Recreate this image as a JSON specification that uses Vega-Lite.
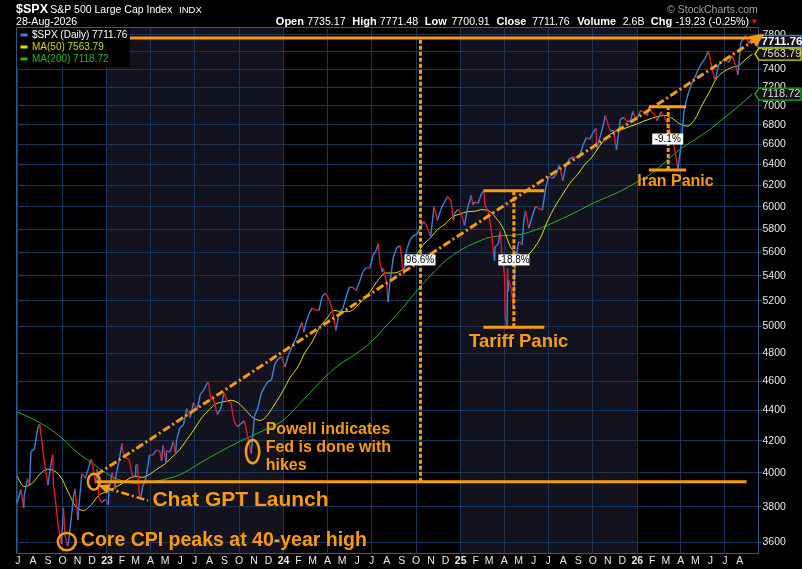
{
  "$schema": "https://vega.github.io/schema/vega-lite/v6.json",
  "autosize": "none",
  "width": 742,
  "height": 526,
  "padding": {"left": 16, "top": 27, "right": 44, "bottom": 16},
  "background": "#000000",
  "config": {
    "font": "Liberation Sans",
    "view": {"stroke": "#2d5b8e", "strokeWidth": 1}
  },
  "datasets": {
    "yrs": [
      {"s": "2023-01-01", "e": "2024-01-01"},
      {"s": "2025-01-01", "e": "2026-01-01"}
    ],
    "px": [
      {"d":"2022-06-28","c":3821},{"d":"2022-07-01","c":3825},{"d":"2022-07-08","c":3899},{"d":"2022-07-14","c":3790},
      {"d":"2022-07-15","c":3863},{"d":"2022-07-22","c":3962},{"d":"2022-07-26","c":3921},{"d":"2022-07-29","c":4130},
      {"d":"2022-08-05","c":4145},{"d":"2022-08-12","c":4280},{"d":"2022-08-16","c":4305},{"d":"2022-08-19","c":4228},
      {"d":"2022-08-26","c":4058},{"d":"2022-09-02","c":3924},{"d":"2022-09-09","c":4067},{"d":"2022-09-12","c":4110},
      {"d":"2022-09-13","c":3932},{"d":"2022-09-16","c":3873},{"d":"2022-09-23","c":3693},{"d":"2022-09-30","c":3586},
      {"d":"2022-10-04","c":3791},{"d":"2022-10-07","c":3640},{"d":"2022-10-12","c":3577},{"d":"2022-10-14","c":3583},
      {"d":"2022-10-21","c":3752},{"d":"2022-10-25","c":3859},{"d":"2022-10-28","c":3901},{"d":"2022-11-03","c":3720},
      {"d":"2022-11-04","c":3771},{"d":"2022-11-10","c":3956},{"d":"2022-11-11","c":3993},{"d":"2022-11-18","c":3965},
      {"d":"2022-11-25","c":4026},{"d":"2022-11-30","c":4080},{"d":"2022-12-02","c":4072},{"d":"2022-12-09","c":3934},
      {"d":"2022-12-13","c":4020},{"d":"2022-12-16","c":3852},{"d":"2022-12-22","c":3822},{"d":"2022-12-30","c":3840},
      {"d":"2023-01-05","c":3808},{"d":"2023-01-06","c":3895},{"d":"2023-01-13","c":3999},{"d":"2023-01-19","c":3899},
      {"d":"2023-01-20","c":3973},{"d":"2023-01-27","c":4071},{"d":"2023-02-02","c":4180},{"d":"2023-02-03","c":4136},
      {"d":"2023-02-10","c":4090},{"d":"2023-02-17","c":4079},{"d":"2023-02-24","c":3970},{"d":"2023-03-02","c":3982},
      {"d":"2023-03-03","c":4045},{"d":"2023-03-06","c":4048},{"d":"2023-03-10","c":3862},{"d":"2023-03-13","c":3855},
      {"d":"2023-03-17","c":3917},{"d":"2023-03-24","c":3971},{"d":"2023-03-31","c":4109},{"d":"2023-04-06","c":4105},
      {"d":"2023-04-14","c":4138},{"d":"2023-04-21","c":4133},{"d":"2023-04-25","c":4071},{"d":"2023-04-28","c":4169},
      {"d":"2023-05-04","c":4061},{"d":"2023-05-05","c":4136},{"d":"2023-05-12","c":4124},{"d":"2023-05-19","c":4192},
      {"d":"2023-05-24","c":4115},{"d":"2023-05-26","c":4205},{"d":"2023-06-02","c":4282},{"d":"2023-06-09","c":4299},
      {"d":"2023-06-16","c":4410},{"d":"2023-06-23","c":4348},{"d":"2023-06-30","c":4450},{"d":"2023-07-07","c":4399},
      {"d":"2023-07-14","c":4505},{"d":"2023-07-21","c":4536},{"d":"2023-07-28","c":4582},{"d":"2023-07-31","c":4589},
      {"d":"2023-08-04","c":4478},{"d":"2023-08-11","c":4464},{"d":"2023-08-18","c":4370},{"d":"2023-08-25","c":4406},
      {"d":"2023-09-01","c":4516},{"d":"2023-09-08","c":4457},{"d":"2023-09-15","c":4450},{"d":"2023-09-22","c":4320},
      {"d":"2023-09-29","c":4288},{"d":"2023-10-06","c":4309},{"d":"2023-10-13","c":4327},{"d":"2023-10-20","c":4224},
      {"d":"2023-10-27","c":4117},{"d":"2023-11-03","c":4358},{"d":"2023-11-10","c":4415},{"d":"2023-11-17","c":4514},
      {"d":"2023-11-24","c":4559},{"d":"2023-12-01","c":4595},{"d":"2023-12-08","c":4604},{"d":"2023-12-15","c":4719},
      {"d":"2023-12-22","c":4755},{"d":"2023-12-29","c":4770},{"d":"2024-01-05","c":4697},{"d":"2024-01-12","c":4784},
      {"d":"2024-01-19","c":4840},{"d":"2024-01-26","c":4891},{"d":"2024-02-02","c":4959},{"d":"2024-02-09","c":5027},
      {"d":"2024-02-13","c":4953},{"d":"2024-02-16","c":5006},{"d":"2024-02-23","c":5089},{"d":"2024-03-01","c":5137},
      {"d":"2024-03-08","c":5124},{"d":"2024-03-15","c":5117},{"d":"2024-03-22","c":5234},{"d":"2024-03-28","c":5254},
      {"d":"2024-04-05","c":5204},{"d":"2024-04-12","c":5123},{"d":"2024-04-19","c":4967},{"d":"2024-04-26","c":5100},
      {"d":"2024-05-03","c":5128},{"d":"2024-05-10","c":5223},{"d":"2024-05-17","c":5303},{"d":"2024-05-24","c":5305},
      {"d":"2024-05-31","c":5278},{"d":"2024-06-07","c":5347},{"d":"2024-06-14","c":5431},{"d":"2024-06-21","c":5465},
      {"d":"2024-06-28","c":5460},{"d":"2024-07-05","c":5567},{"d":"2024-07-12","c":5615},{"d":"2024-07-16","c":5667},
      {"d":"2024-07-19","c":5505},{"d":"2024-07-24","c":5427},{"d":"2024-07-26","c":5459},{"d":"2024-08-02","c":5347},
      {"d":"2024-08-05","c":5186},{"d":"2024-08-09","c":5344},{"d":"2024-08-16","c":5554},{"d":"2024-08-23","c":5634},
      {"d":"2024-08-30","c":5648},{"d":"2024-09-06","c":5408},{"d":"2024-09-13","c":5626},{"d":"2024-09-20","c":5703},
      {"d":"2024-09-27","c":5738},{"d":"2024-10-04","c":5751},{"d":"2024-10-11","c":5815},{"d":"2024-10-18","c":5864},
      {"d":"2024-10-25","c":5808},{"d":"2024-11-01","c":5729},{"d":"2024-11-08","c":5996},{"d":"2024-11-15","c":5871},
      {"d":"2024-11-22","c":5969},{"d":"2024-11-29","c":6032},{"d":"2024-12-06","c":6090},{"d":"2024-12-13","c":6051},
      {"d":"2024-12-18","c":5872},{"d":"2024-12-20","c":5931},{"d":"2024-12-27","c":5971},{"d":"2025-01-03","c":5942},
      {"d":"2025-01-10","c":5827},{"d":"2025-01-17","c":5997},{"d":"2025-01-24","c":6101},{"d":"2025-01-27","c":6012},
      {"d":"2025-01-31","c":6041},{"d":"2025-02-07","c":6026},{"d":"2025-02-14","c":6115},{"d":"2025-02-19","c":6144},
      {"d":"2025-02-21","c":6013},{"d":"2025-02-28","c":5955},{"d":"2025-03-07","c":5770},{"d":"2025-03-10","c":5615},
      {"d":"2025-03-13","c":5522},{"d":"2025-03-14","c":5639},{"d":"2025-03-21","c":5667},{"d":"2025-03-25","c":5777},
      {"d":"2025-03-28","c":5581},{"d":"2025-04-03","c":5397},{"d":"2025-04-04","c":5074},{"d":"2025-04-08","c":4982},
      {"d":"2025-04-09","c":5457},{"d":"2025-04-10","c":5268},{"d":"2025-04-11","c":5363},{"d":"2025-04-17","c":5283},
      {"d":"2025-04-21","c":5158},{"d":"2025-04-25","c":5525},{"d":"2025-05-02","c":5686},{"d":"2025-05-09","c":5660},
      {"d":"2025-05-12","c":5844},{"d":"2025-05-16","c":5958},{"d":"2025-05-23","c":5803},{"d":"2025-05-30","c":5912},
      {"d":"2025-06-06","c":6000},{"d":"2025-06-13","c":5977},{"d":"2025-06-20","c":5968},{"d":"2025-06-27","c":6173},
      {"d":"2025-07-03","c":6279},{"d":"2025-07-11","c":6260},{"d":"2025-07-18","c":6297},{"d":"2025-07-25","c":6389},
      {"d":"2025-08-01","c":6238},{"d":"2025-08-08","c":6389},{"d":"2025-08-15","c":6450},{"d":"2025-08-22","c":6467},
      {"d":"2025-08-29","c":6460},{"d":"2025-09-05","c":6482},{"d":"2025-09-12","c":6584},{"d":"2025-09-19","c":6664},
      {"d":"2025-09-26","c":6644},{"d":"2025-10-03","c":6716},{"d":"2025-10-09","c":6753},{"d":"2025-10-10","c":6553},
      {"d":"2025-10-17","c":6664},{"d":"2025-10-24","c":6792},{"d":"2025-10-28","c":6890},{"d":"2025-10-31","c":6840},
      {"d":"2025-11-07","c":6728},{"d":"2025-11-14","c":6734},{"d":"2025-11-20","c":6538},{"d":"2025-11-28","c":6849},
      {"d":"2025-12-05","c":6870},{"d":"2025-12-12","c":6827},{"d":"2025-12-19","c":6834},{"d":"2025-12-24","c":6932},
      {"d":"2025-12-31","c":6845},{"d":"2026-01-02","c":6858},{"d":"2026-01-09","c":6944},{"d":"2026-01-16","c":6921},
      {"d":"2026-01-23","c":6890},{"d":"2026-01-27","c":6980},{"d":"2026-01-30","c":6935},{"d":"2026-02-06","c":6905},
      {"d":"2026-02-12","c":6835},{"d":"2026-02-20","c":6930},{"d":"2026-02-27","c":6878},{"d":"2026-03-06","c":6795},
      {"d":"2026-03-13","c":6690},{"d":"2026-03-20","c":6560},{"d":"2026-03-27","c":6352},{"d":"2026-04-02","c":6560},
      {"d":"2026-04-09","c":6950},{"d":"2026-04-17","c":7120},{"d":"2026-04-24","c":7230},{"d":"2026-05-01","c":7300},
      {"d":"2026-05-08","c":7390},{"d":"2026-05-15","c":7460},{"d":"2026-05-22","c":7510},{"d":"2026-05-29","c":7600},
      {"d":"2026-06-05","c":7420},{"d":"2026-06-12","c":7260},{"d":"2026-06-19","c":7440},{"d":"2026-06-26","c":7480},
      {"d":"2026-07-02","c":7510},{"d":"2026-07-10","c":7470},{"d":"2026-07-17","c":7545},{"d":"2026-07-24","c":7440},
      {"d":"2026-07-29","c":7330},{"d":"2026-08-04","c":7700},{"d":"2026-08-11","c":7755},{"d":"2026-08-14","c":7780},
      {"d":"2026-08-21","c":7690},{"d":"2026-08-25","c":7735},{"d":"2026-08-28","c":7711.76}
    ],
    "ma50": [
      {"d":"2022-07-01","v":3975},{"d":"2022-07-15","v":3915},{"d":"2022-08-01","v":3935},{"d":"2022-08-15","v":3985},
      {"d":"2022-09-01","v":4020},{"d":"2022-09-15","v":4010},{"d":"2022-10-01","v":3960},{"d":"2022-10-15","v":3875},
      {"d":"2022-11-01","v":3790},{"d":"2022-11-15","v":3775},{"d":"2022-12-01","v":3810},{"d":"2022-12-15","v":3860},
      {"d":"2023-01-01","v":3885},{"d":"2023-01-15","v":3905},{"d":"2023-02-01","v":3930},{"d":"2023-02-15","v":3960},
      {"d":"2023-03-01","v":3975},{"d":"2023-03-15","v":3970},{"d":"2023-04-01","v":3990},{"d":"2023-04-15","v":4020},
      {"d":"2023-05-01","v":4050},{"d":"2023-05-15","v":4090},{"d":"2023-06-01","v":4140},{"d":"2023-06-15","v":4200},
      {"d":"2023-07-01","v":4270},{"d":"2023-07-15","v":4340},{"d":"2023-08-01","v":4400},{"d":"2023-08-15","v":4440},
      {"d":"2023-09-01","v":4455},{"d":"2023-09-15","v":4465},{"d":"2023-10-01","v":4445},{"d":"2023-10-15","v":4400},
      {"d":"2023-11-01","v":4345},{"d":"2023-11-15","v":4330},{"d":"2023-12-01","v":4370},{"d":"2023-12-15","v":4440},
      {"d":"2024-01-01","v":4530},{"d":"2024-01-15","v":4620},{"d":"2024-02-01","v":4700},{"d":"2024-02-15","v":4800},
      {"d":"2024-03-01","v":4880},{"d":"2024-03-15","v":4980},{"d":"2024-04-01","v":5060},{"d":"2024-04-15","v":5120},
      {"d":"2024-05-01","v":5110},{"d":"2024-05-15","v":5110},{"d":"2024-06-01","v":5150},{"d":"2024-06-15","v":5210},
      {"d":"2024-07-01","v":5280},{"d":"2024-07-15","v":5360},{"d":"2024-08-01","v":5420},{"d":"2024-08-15","v":5420},
      {"d":"2024-09-01","v":5440},{"d":"2024-09-15","v":5490},{"d":"2024-10-01","v":5560},{"d":"2024-10-15","v":5650},
      {"d":"2024-11-01","v":5720},{"d":"2024-11-15","v":5790},{"d":"2024-12-01","v":5840},{"d":"2024-12-15","v":5900},
      {"d":"2025-01-01","v":5930},{"d":"2025-01-15","v":5950},{"d":"2025-02-01","v":5955},{"d":"2025-02-15","v":5970},
      {"d":"2025-03-01","v":5960},{"d":"2025-03-15","v":5900},{"d":"2025-04-01","v":5790},{"d":"2025-04-15","v":5640},
      {"d":"2025-05-01","v":5580},{"d":"2025-05-15","v":5560},{"d":"2025-06-01","v":5620},{"d":"2025-06-15","v":5710},
      {"d":"2025-07-01","v":5870},{"d":"2025-07-15","v":5990},{"d":"2025-08-01","v":6110},{"d":"2025-08-15","v":6210},
      {"d":"2025-09-01","v":6300},{"d":"2025-09-15","v":6390},{"d":"2025-10-01","v":6470},{"d":"2025-10-15","v":6570},
      {"d":"2025-11-01","v":6670},{"d":"2025-11-15","v":6720},{"d":"2025-12-01","v":6745},{"d":"2025-12-15","v":6770},
      {"d":"2026-01-01","v":6800},{"d":"2026-01-15","v":6830},{"d":"2026-02-01","v":6860},{"d":"2026-02-15","v":6880},
      {"d":"2026-03-01","v":6890},{"d":"2026-03-15","v":6860},{"d":"2026-04-01","v":6800},{"d":"2026-04-15","v":6780},
      {"d":"2026-05-01","v":6850},{"d":"2026-05-15","v":6990},{"d":"2026-06-01","v":7150},{"d":"2026-06-15","v":7290},
      {"d":"2026-07-01","v":7370},{"d":"2026-07-15","v":7410},{"d":"2026-08-01","v":7440},{"d":"2026-08-15","v":7510},
      {"d":"2026-08-28","v":7563.79}
    ],
    "ma200": [
      {"d":"2022-07-01","v":4385},{"d":"2022-08-01","v":4340},{"d":"2022-09-01","v":4285},{"d":"2022-10-01","v":4215},
      {"d":"2022-11-01","v":4125},{"d":"2022-12-01","v":4060},{"d":"2023-01-01","v":3995},{"d":"2023-02-01","v":3950},
      {"d":"2023-03-01","v":3935},{"d":"2023-04-01","v":3940},{"d":"2023-05-01","v":3958},{"d":"2023-06-01","v":3985},
      {"d":"2023-07-01","v":4035},{"d":"2023-08-01","v":4090},{"d":"2023-09-01","v":4142},{"d":"2023-10-01","v":4190},
      {"d":"2023-11-01","v":4234},{"d":"2023-12-01","v":4278},{"d":"2024-01-01","v":4330},{"d":"2024-02-01","v":4430},
      {"d":"2024-03-01","v":4530},{"d":"2024-04-01","v":4640},{"d":"2024-05-01","v":4725},{"d":"2024-06-01","v":4795},
      {"d":"2024-07-01","v":4880},{"d":"2024-08-01","v":5000},{"d":"2024-09-01","v":5125},{"d":"2024-10-01","v":5265},
      {"d":"2024-11-01","v":5400},{"d":"2024-12-01","v":5520},{"d":"2025-01-01","v":5610},{"d":"2025-02-01","v":5675},
      {"d":"2025-03-01","v":5720},{"d":"2025-04-01","v":5738},{"d":"2025-05-01","v":5745},{"d":"2025-06-01","v":5780},
      {"d":"2025-07-01","v":5830},{"d":"2025-08-01","v":5890},{"d":"2025-09-01","v":5955},{"d":"2025-10-01","v":6025},
      {"d":"2025-11-01","v":6085},{"d":"2025-12-01","v":6145},{"d":"2026-01-01","v":6225},{"d":"2026-02-01","v":6310},
      {"d":"2026-03-01","v":6420},{"d":"2026-04-01","v":6545},{"d":"2026-05-01","v":6640},{"d":"2026-06-01","v":6745},
      {"d":"2026-07-01","v":6865},{"d":"2026-08-01","v":6995},{"d":"2026-08-28","v":7118.72}
    ],
    "hl": [
      {"a":"2022-12-01","b":"2026-09-08","v":7752},
      {"a":"2022-12-11","b":"2026-08-16","v":3944},
      {"a":"2025-02-18","b":"2025-06-24","v":6144},
      {"a":"2025-02-18","b":"2025-06-24","v":4990},
      {"a":"2026-01-26","b":"2026-04-13","v":6983},
      {"a":"2026-01-26","b":"2026-04-13","v":6341}
    ],
    "vl": [
      {"d":"2024-10-11","lo":3944,"hi":7752},
      {"d":"2025-04-22","lo":4990,"hi":6144},
      {"d":"2026-03-07","lo":6341,"hi":6983}
    ],
    "pct": [
      {"d":"2024-10-10","v":5529,"t":"96.6%"},
      {"d":"2025-04-22","v":5529,"t":"-18.8%"},
      {"d":"2026-03-06","v":6647,"t":"-9.1%"}
    ],
    "trend": [
      {"d":"2022-12-11","v":3985},
      {"d":"2026-09-08","v":7752}
    ],
    "gpt": [
      {"d":"2023-03-28","v":3832},
      {"d":"2022-12-31","v":3907}
    ],
    "rings": [
      {"k":"cpi","d":"2022-10-11","v":3600},
      {"k":"gpt","d":"2022-12-06","v":3944},
      {"k":"pow","d":"2023-10-30","v":4129}
    ],
    "tags": [
      {"k":"spx","v":7711.76,"t":"7711.76"},
      {"k":"m50","v":7563.79,"t":"7563.79"},
      {"k":"m200","v":7118.72,"t":"7118.72"}
    ],
    "hdr": [
      {"t":"Open","d":"2023-12-17","b":1},{"t":"7735.17","d":"2024-02-20","b":0},
      {"t":"High","d":"2024-05-23","b":1},{"t":"7771.48","d":"2024-07-19","b":0},
      {"t":"Low","d":"2024-10-20","b":1},{"t":"7700.91","d":"2024-12-14","b":0},
      {"t":"Close","d":"2025-03-17","b":1},{"t":"7711.76","d":"2025-05-30","b":0},
      {"t":"Volume","d":"2025-08-31","b":1},{"t":"2.6B","d":"2025-12-03","b":0},
      {"t":"Chg","d":"2026-01-30","b":1},{"t":"-19.23 (-0.25%)","d":"2026-03-22","b":0},
      {"t":"28-Aug-2026","d":"2022-06-28","b":0}
    ]
  },
  "layer": [
    {
      "data": {"name": "yrs"},
      "mark": {"type": "rect", "color": "#13131f", "blend": "lighten"},
      "encoding": {
        "x": {
          "field": "s", "type": "temporal",
          "scale": {"domain": [{"year": 2022, "month": 6, "date": 28}, {"year": 2026, "month": 9, "date": 8, "hours": 14}]},
          "axis": {
            "title": null, "domain": false, "ticks": false, "grid": true,
            "gridColor": "#1a3556",
            "gridOpacity": {"condition": {"test": "month(datum.value) % 3 == 0", "value": 1}, "value": 0},
            "tickCount": {"interval": "month", "step": 1},
            "labelExpr": "datum.value > datetime(2026, 7, 20) ? '' : month(datum.value) == 0 ? timeFormat(datum.value, '%y') : slice(timeFormat(datum.value, '%b'), 0, 1)",
            "labelOverlap": false, "labelFlush": false,
            "labelColor": "#e8e8e8", "labelFontSize": 10.5, "labelPadding": 2,
            "labelFontWeight": {"condition": {"test": "month(datum.value) == 0", "value": "bold"}, "value": "normal"}
          }
        },
        "x2": {"field": "e"}
      }
    },
    {
      "data": {"name": "ma200"},
      "mark": {"type": "line", "strokeWidth": 1, "interpolate": "monotone"},
      "encoding": {
        "x": {"field": "d", "type": "temporal"},
        "y": {
          "field": "v", "type": "quantitative",
          "scale": {"type": "log", "domain": [3538, 7884], "nice": false, "zero": false},
          "axis": {
            "orient": "right", "title": null, "format": "d",
            "values": [3600, 3800, 4000, 4200, 4400, 4600, 4800, 5000, 5200, 5400, 5600, 5800, 6000, 6200, 6400, 6600, 6800, 7000, 7200, 7400, 7600, 7800],
            "labelExpr": "datum.value == 7600 ? '' : datum.label",
            "domain": false, "ticks": true, "tickSize": 3, "tickColor": "#2d5b8e",
            "grid": true, "gridColor": "#1a3556",
            "labelColor": "#e8e8e8", "labelFontSize": 10.5, "labelPadding": 1
          }
        },
        "color": {
          "datum": "MA(200) 7118.72", "type": "nominal",
          "scale": {"domain": ["$SPX (Daily) 7711.76", "MA(50) 7563.79", "MA(200) 7118.72"], "range": ["#3b82dc", "#e0e000", "#22b522"]},
          "legend": {
            "title": null, "orient": "top-left", "offset": 1, "padding": 2,
            "fillColor": "#000000", "symbolType": "stroke", "symbolSize": 49, "symbolStrokeWidth": 3,
            "labelFontSize": 10, "labelOffset": 3, "rowPadding": 0, "labelLimit": 200,
            "encode": {"labels": {"update": {"fill": {"signal": "datum.label == 'MA(50) 7563.79' ? '#d8d800' : datum.label == 'MA(200) 7118.72' ? '#25b525' : '#ffffff'"}}}}
          }
        }
      }
    },
    {
      "data": {"name": "ma50"},
      "mark": {"type": "line", "strokeWidth": 1, "interpolate": "monotone"},
      "encoding": {
        "x": {"field": "d", "type": "temporal"},
        "y": {"field": "v", "type": "quantitative"},
        "color": {"datum": "MA(50) 7563.79", "type": "nominal"}
      }
    },
    {
      "data": {"name": "px"},
      "transform": [
        {"window": [{"op": "lag", "field": "c", "as": "p"}, {"op": "lag", "field": "d", "as": "pd"}], "sort": [{"field": "d"}]},
        {"filter": "datum.p != null"}
      ],
      "mark": {"type": "rule", "strokeWidth": 1.4},
      "encoding": {
        "x": {"field": "pd", "type": "temporal"},
        "x2": {"field": "d"},
        "y": {"field": "p", "type": "quantitative"},
        "y2": {"field": "c"},
        "color": {"condition": {"test": "datum.c >= datum.p", "value": "#3b82dc"}, "value": "#ea1520"}
      }
    },
    {
      "data": {"name": "hl"},
      "mark": {"type": "rule", "strokeWidth": 3, "color": "#fb9b0c"},
      "encoding": {
        "x": {"field": "a", "type": "temporal"},
        "x2": {"field": "b"},
        "y": {"field": "v", "type": "quantitative"}
      }
    },
    {
      "data": {"name": "vl"},
      "mark": {"type": "rule", "strokeWidth": 3, "color": "#fb9b0c", "strokeDash": [4, 2]},
      "encoding": {
        "x": {"field": "d", "type": "temporal"},
        "y": {"field": "lo", "type": "quantitative"},
        "y2": {"field": "hi"}
      }
    },
    {
      "data": {"name": "trend"},
      "mark": {"type": "line", "strokeWidth": 3, "color": "#fb9b0c", "strokeDash": [8, 3, 2, 3]},
      "encoding": {
        "x": {"field": "d", "type": "temporal"},
        "y": {"field": "v", "type": "quantitative"}
      }
    },
    {
      "data": {"name": "gpt"},
      "mark": {"type": "line", "strokeWidth": 2.5, "color": "#fb9b0c", "strokeDash": [8, 3, 2, 3]},
      "encoding": {
        "x": {"field": "d", "type": "temporal"},
        "y": {"field": "v", "type": "quantitative"}
      }
    },
    {
      "data": {"name": "rings"},
      "mark": {"type": "point", "filled": false, "size": 4, "strokeWidth": 2.5, "color": "#fb9b0c", "opacity": 1},
      "encoding": {
        "x": {"field": "d", "type": "temporal"},
        "y": {"field": "v", "type": "quantitative"},
        "shape": {
          "condition": [
            {"test": "datum.k == 'cpi'", "value": "M-9,0A9,8.7 0 1,1 9,0A9,8.7 0 1,1 -9,0Z"},
            {"test": "datum.k == 'gpt'", "value": "M-6,0A6,8 0 1,1 6,0A6,8 0 1,1 -6,0Z"}
          ],
          "value": "M-6.7,0A6.7,11.7 0 1,1 6.7,0A6.7,11.7 0 1,1 -6.7,0Z"
        }
      }
    },
    {
      "data": {"name": "pct"},
      "mark": {"type": "point", "shape": "M-15.5,-5.5L15.5,-5.5L15.5,5.5L-15.5,5.5Z", "size": 4, "filled": true, "color": "#ffffff", "opacity": 1, "strokeWidth": 0},
      "encoding": {
        "x": {"field": "d", "type": "temporal"},
        "y": {"field": "v", "type": "quantitative"}
      }
    },
    {
      "data": {"name": "pct"},
      "mark": {"type": "text", "fontSize": 10, "color": "#000000", "align": "center", "baseline": "middle"},
      "encoding": {
        "x": {"field": "d", "type": "temporal"},
        "y": {"field": "v", "type": "quantitative"},
        "text": {"field": "t"}
      }
    },
    {
      "data": {"values": [{"t": "Core CPI peaks at 40-year high", "d": "2022-11-09", "v": 3578}]},
      "mark": {"type": "text", "fontSize": 19.5, "fontWeight": "bold", "color": "#fb9b0c", "align": "left", "baseline": "alphabetic"},
      "encoding": {"x": {"field": "d", "type": "temporal"}, "y": {"field": "v", "type": "quantitative"}, "text": {"field": "t"}}
    },
    {
      "data": {"values": [{"t": "Chat GPT Launch", "d": "2023-04-06", "v": 3801}]},
      "mark": {"type": "text", "fontSize": 21, "fontWeight": "bold", "color": "#fb9b0c", "align": "left", "baseline": "alphabetic"},
      "encoding": {"x": {"field": "d", "type": "temporal"}, "y": {"field": "v", "type": "quantitative"}, "text": {"field": "t"}}
    },
    {
      "data": {"values": [{"t": "Powell indicates\nFed is done with\nhikes", "d": "2023-11-26", "v": 4242}]},
      "mark": {"type": "text", "fontSize": 16, "fontWeight": "bold", "color": "#fb9b0c", "align": "left", "baseline": "alphabetic", "lineBreak": "\n", "lineHeight": 18.3},
      "encoding": {"x": {"field": "d", "type": "temporal"}, "y": {"field": "v", "type": "quantitative"}, "text": {"field": "t"}}
    },
    {
      "data": {"values": [{"t": "Tariff Panic", "d": "2025-05-02", "v": 4845}]},
      "mark": {"type": "text", "fontSize": 18.5, "fontWeight": "bold", "color": "#fb9b0c", "align": "center", "baseline": "alphabetic"},
      "encoding": {"x": {"field": "d", "type": "temporal"}, "y": {"field": "v", "type": "quantitative"}, "text": {"field": "t"}}
    },
    {
      "data": {"values": [{"t": "Iran Panic", "d": "2026-03-22", "v": 6186}]},
      "mark": {"type": "text", "fontSize": 16, "fontWeight": "bold", "color": "#fb9b0c", "align": "center", "baseline": "alphabetic"},
      "encoding": {"x": {"field": "d", "type": "temporal"}, "y": {"field": "v", "type": "quantitative"}, "text": {"field": "t"}}
    },
    {
      "data": {"values": [{"t": "$SPX", "d": "2022-06-28"}]},
      "mark": {"type": "text", "fontSize": 12.5, "fontWeight": "bold", "color": "#ffffff", "align": "left", "baseline": "alphabetic"},
      "encoding": {"x": {"field": "d", "type": "temporal"}, "y": {"datum": 8054}, "text": {"field": "t"}}
    },
    {
      "data": {"values": [{"t": "S&P 500 Large Cap Index", "d": "2022-09-07"}]},
      "mark": {"type": "text", "fontSize": 10.5, "color": "#ffffff", "align": "left", "baseline": "alphabetic"},
      "encoding": {"x": {"field": "d", "type": "temporal"}, "y": {"datum": 8054}, "text": {"field": "t"}}
    },
    {
      "data": {"values": [{"t": "INDX", "d": "2023-05-31"}]},
      "mark": {"type": "text", "fontSize": 9.5, "color": "#ffffff", "align": "left", "baseline": "alphabetic"},
      "encoding": {"x": {"field": "d", "type": "temporal"}, "y": {"datum": 8054}, "text": {"field": "t"}}
    },
    {
      "data": {"values": [{"t": "© StockCharts.com", "d": "2026-09-08"}]},
      "mark": {"type": "text", "fontSize": 10.5, "color": "#a0a0a0", "align": "right", "baseline": "alphabetic"},
      "encoding": {"x": {"field": "d", "type": "temporal"}, "y": {"datum": 8054}, "text": {"field": "t"}}
    },
    {
      "data": {"name": "hdr"},
      "transform": [{"filter": "datum.b == 1"}],
      "mark": {"type": "text", "fontSize": 11, "fontWeight": "bold", "color": "#ffffff", "align": "left", "baseline": "alphabetic"},
      "encoding": {"x": {"field": "d", "type": "temporal"}, "y": {"datum": 7908}, "text": {"field": "t"}}
    },
    {
      "data": {"name": "hdr"},
      "transform": [{"filter": "datum.b == 0"}],
      "mark": {"type": "text", "fontSize": 10.6, "color": "#ffffff", "align": "left", "baseline": "alphabetic"},
      "encoding": {"x": {"field": "d", "type": "temporal"}, "y": {"datum": 7908}, "text": {"field": "t"}}
    },
    {
      "data": {"values": [{"d": "2026-09-01"}]},
      "mark": {"type": "point", "shape": "triangle-down", "size": 30, "filled": true, "color": "#e01010", "opacity": 1},
      "encoding": {"x": {"field": "d", "type": "temporal"}, "y": {"datum": 7947}}
    },
    {
      "data": {"name": "tags"},
      "mark": {"type": "point", "filled": true, "size": 4, "fill": "#121212", "strokeWidth": 1.3, "opacity": 1},
      "encoding": {
        "x": {"datum": {"year": 2026, "month": 9, "date": 8, "hours": 14}, "type": "temporal"},
        "y": {"field": "v", "type": "quantitative"},
        "shape": {"condition": {"test": "datum.k == 'spx'", "value": "M0,-6L43,-6L43,6L0,6Z"}, "value": "M-3,0L1,-6L43,-6L43,6L1,6Z"},
        "stroke": {"condition": [{"test": "datum.k == 'spx'", "value": "#3b7fd4"}, {"test": "datum.k == 'm50'", "value": "#d8d800"}], "value": "#22aa22"}
      }
    },
    {
      "data": {"name": "tags"},
      "transform": [{"filter": "datum.k == 'spx'"}],
      "mark": {"type": "text", "fontSize": 11.5, "fontWeight": "bold", "color": "#ffffff", "align": "left", "baseline": "middle", "dx": 3.5},
      "encoding": {
        "x": {"datum": {"year": 2026, "month": 9, "date": 8, "hours": 14}, "type": "temporal"},
        "y": {"field": "v", "type": "quantitative"},
        "text": {"field": "t"}
      }
    },
    {
      "data": {"name": "tags"},
      "transform": [{"filter": "datum.k != 'spx'"}],
      "mark": {"type": "text", "fontSize": 11, "color": "#dedede", "align": "left", "baseline": "middle", "dx": 3.5},
      "encoding": {
        "x": {"datum": {"year": 2026, "month": 9, "date": 8, "hours": 14}, "type": "temporal"},
        "y": {"field": "v", "type": "quantitative"},
        "text": {"field": "t"}
      }
    },
    {
      "data": {"values": [{"d": "2026-09-08", "v": 7752}]},
      "mark": {"type": "point", "shape": "M6.7,-4.4L-1.4,8.7L-8.6,-2.1Z", "size": 4, "filled": true, "color": "#fb9b0c", "opacity": 1, "strokeWidth": 0},
      "encoding": {"x": {"field": "d", "type": "temporal"}, "y": {"field": "v", "type": "quantitative"}}
    },
    {
      "data": {"values": [{"d": "2022-12-15", "v": 3922}]},
      "mark": {"type": "point", "shape": "M0,0L12,-1.1L8.8,8.3Z", "size": 4, "filled": true, "color": "#fb9b0c", "opacity": 1, "strokeWidth": 0},
      "encoding": {"x": {"field": "d", "type": "temporal"}, "y": {"field": "v", "type": "quantitative"}}
    }
  ]
}
